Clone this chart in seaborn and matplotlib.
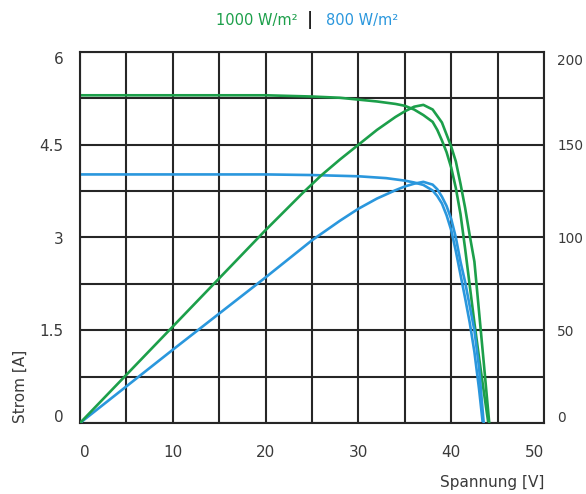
import matplotlib
matplotlib.use("Agg")
import numpy as np
import pandas as pd
import seaborn as sns
import matplotlib.pyplot as plt
import matplotlib.transforms as mtransforms
from matplotlib.ticker import FixedLocator, MultipleLocator

# ---- data ----
# I-V curve, 1000 W/m2 (left axis, A)
volt_g_iv = [0, 10, 20, 25, 28, 30, 32, 34, 35, 36, 37, 38, 38.5, 39, 39.5, 40,
             40.5, 41, 41.5, 42, 42.5, 43, 43.5, 44.0]
curr_g_iv = [5.30, 5.30, 5.30, 5.28, 5.26, 5.23, 5.20, 5.16, 5.13, 5.07, 4.98, 4.87,
             4.74, 4.57, 4.38, 4.13, 3.80, 3.38, 2.82, 2.22, 1.62, 1.06, 0.52, 0.0]
# P-V curve, 1000 W/m2 (right axis, W)
volt_g_p = [0, 10, 15, 20, 22, 24, 26, 28, 30, 32, 34, 35, 36, 37, 38, 39, 40, 40.5,
            41, 41.5, 42, 42.5, 43, 43.5, 44.1]
power_g_p = [0, 52, 78, 104, 114, 124, 133.5, 142, 150, 158, 165, 168, 170.5, 171.5,
             169, 162, 149, 141, 129, 116, 101, 87, 60, 33, 0]
# I-V curve, 800 W/m2
volt_b_iv = [0, 10, 20, 25, 30, 33, 35, 36, 37, 38, 38.5, 39, 39.5, 40, 40.5, 41,
             41.5, 42, 42.5, 43, 43.4]
curr_b_iv = [4.02, 4.02, 4.02, 4.01, 3.99, 3.96, 3.92, 3.89, 3.85, 3.76, 3.67, 3.55,
             3.36, 3.12, 2.78, 2.40, 2.02, 1.62, 1.15, 0.55, 0.0]
# P-V curve, 800 W/m2
volt_b_p = [0, 10, 20, 25, 28, 30, 32, 34, 35, 36, 37, 38, 38.5, 39, 39.5, 40,
            40.5, 41, 41.5, 42, 42.5, 43, 43.5]
power_b_p = [0, 39.5, 78.5, 98.5, 109, 115.5, 121, 125.5, 127.5, 129, 130, 128.5, 126,
             122, 117, 110, 100, 87, 76, 63, 50, 30, 0]

x_ticks = [0, 10, 20, 30, 40, 50]
y_ticks_left = [0, 1.5, 3, 4.5, 6]
y_labels_left = ["0", "1.5", "3", "4.5", "6"]
y_ticks_right = [0, 50, 100, 150, 200]
y_labels_right = ["0", "50", "100", "150", "200"]

GREEN = "#1c9f4a"
BLUE = "#2a97dd"
GRID = "#262626"
TXT = "#3a3a3a"

sns.set_theme(style="white")
plt.rcParams['font.family'] = ['DejaVu Sans']

fig = plt.figure(figsize=(5.86, 4.94), dpi=100)
ax = fig.add_axes([80 / 586, 71 / 494, 464 / 586, 371 / 494])
ax2 = ax.twinx()

df_g_iv = pd.DataFrame({"V": volt_g_iv, "I": curr_g_iv})
df_b_iv = pd.DataFrame({"V": volt_b_iv, "I": curr_b_iv})
df_g_p = pd.DataFrame({"V": volt_g_p, "P": power_g_p})
df_b_p = pd.DataFrame({"V": volt_b_p, "P": power_b_p})

lw = 1.9
sns.lineplot(data=df_b_iv, x="V", y="I", ax=ax, color=BLUE, lw=lw, sort=False, estimator=None)
sns.lineplot(data=df_g_iv, x="V", y="I", ax=ax, color=GREEN, lw=lw, sort=False, estimator=None)
sns.lineplot(data=df_b_p, x="V", y="P", ax=ax2, color=BLUE, lw=lw, sort=False, estimator=None)
sns.lineplot(data=df_g_p, x="V", y="P", ax=ax2, color=GREEN, lw=lw, sort=False, estimator=None)

ax.set_xlim(0, 50)
ax.set_ylim(0, 6)
ax2.set_ylim(0, 200)

ax.xaxis.set_major_locator(FixedLocator(x_ticks))
ax.xaxis.set_minor_locator(MultipleLocator(5))
ax.set_yticks(y_ticks_left)
ax.set_yticklabels(y_labels_left)
ax.yaxis.set_minor_locator(MultipleLocator(0.75))
ax2.set_yticks(y_ticks_right)
ax2.set_yticklabels(y_labels_right)

ax.grid(which="both", color=GRID, lw=1.5)
ax.set_axisbelow(True)
ax2.grid(False)
for sp in ax.spines.values():
    sp.set_color(GRID)
    sp.set_linewidth(1.5)
for sp in ax2.spines.values():
    sp.set_visible(False)

fs = 11
ax.tick_params(axis="x", which="both", length=0, pad=16, labelsize=fs, labelcolor=TXT)
ax.tick_params(axis="y", which="both", length=0, pad=12, labelsize=fs, labelcolor=TXT)
ax2.tick_params(axis="y", which="both", length=0, pad=9.5, labelsize=9.8, labelcolor=TXT)

ax.set_xlabel("Spannung [V]", fontsize=11, color=TXT, loc="right")
ax.xaxis.set_label_coords(1.0, -0.14)
ax.set_ylabel("Strom [A]", fontsize=11, color=TXT, loc="bottom")
ax.yaxis.set_label_coords(-0.112, 0.0)
ax2.set_ylabel("")


def shift(label, dx, dy):
    off = mtransforms.ScaledTranslation(dx / 100, dy / 100, fig.dpi_scale_trans)
    label.set_transform(label.get_transform() + off)


xt = ax.xaxis.get_major_ticks()
shift(xt[0].label1, 5, 0)
shift(xt[-1].label1, -9, 0)
yt = ax.yaxis.get_major_ticks()
shift(yt[0].label1, 0, 7)
shift(yt[-1].label1, 0, -6)
yt2 = ax2.yaxis.get_major_ticks()
shift(yt2[0].label2, 0, 7)
shift(yt2[-1].label2, 0, -7)

ty = 1 - 20 / 494
fig.text(298 / 586, ty, "1000 W/m²", color=GREEN, fontsize=10.5, ha="right", va="center")
fig.text(310 / 586, ty, "|", color="#222222", fontsize=12, fontweight="bold", ha="center", va="center")
fig.text(326 / 586, ty, "800 W/m²", color=BLUE, fontsize=10.5, ha="left", va="center")

fig.savefig("out.png", dpi=100)
